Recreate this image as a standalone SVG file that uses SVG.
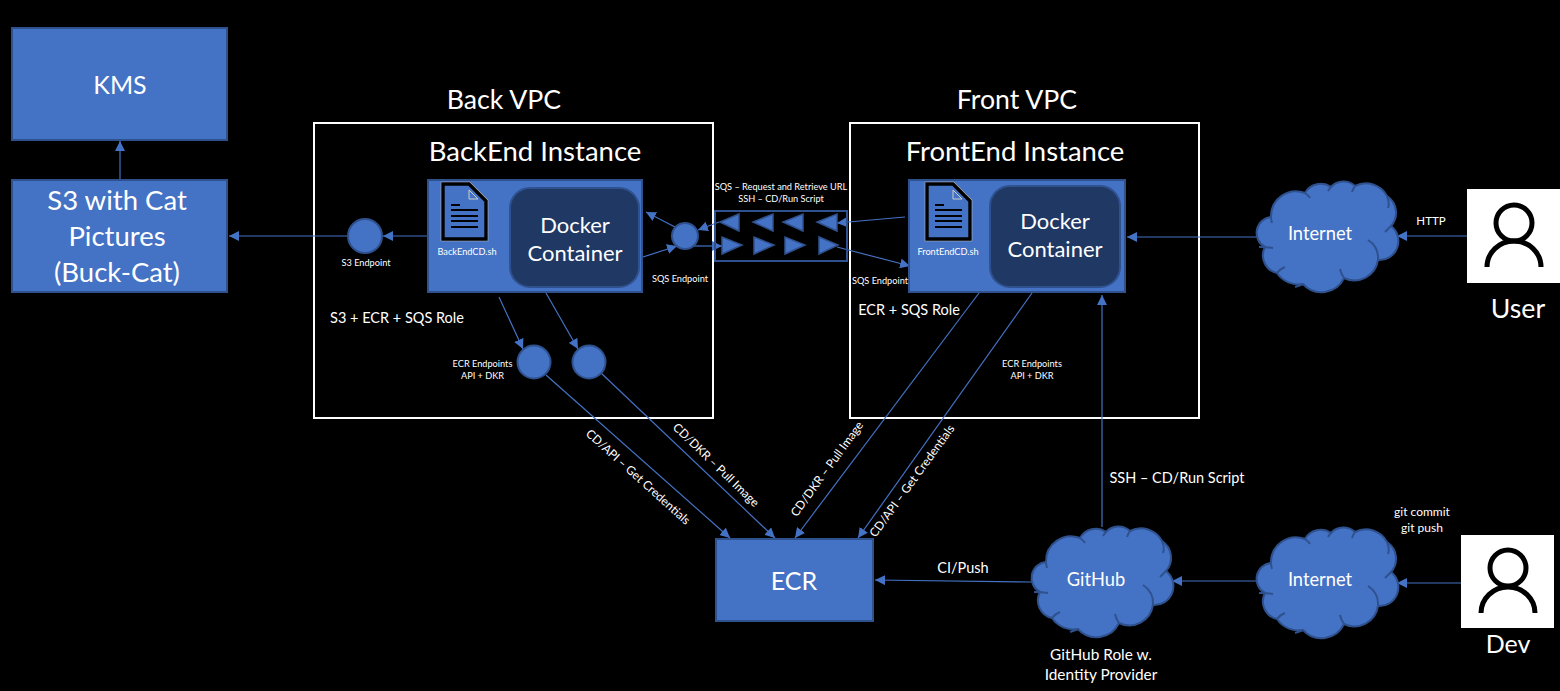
<svg xmlns="http://www.w3.org/2000/svg" width="1560" height="691" viewBox="0 0 1560 691">
<style>
text{font-family:"Lato","Open Sans","Liberation Sans",sans-serif;fill:#fff;text-anchor:middle}
.blue{fill:#4472C4;stroke:#2F528F;stroke-width:2}
.dark{fill:#203864;stroke:#2F528F;stroke-width:2}
.vpc{fill:none;stroke:#fff;stroke-width:2}
.tri{fill:#4472C4;stroke:#2F528F;stroke-width:1.5}
.c{fill:none;stroke:#4472C4;stroke-width:1.2;marker-end:url(#a)}
.t27{font-size:26.7px}.t25{font-size:25px}.t27i{font-size:27.5px}.t23{font-size:22px}.t18{font-size:18.3px}.t15{font-size:14.5px}.t155{font-size:15.4px}.t12{font-size:12px}.t10{font-size:9.2px}
.pi{fill:none;stroke:#000;stroke-width:5}
</style>
<defs>
<marker id="a" markerUnits="userSpaceOnUse" markerWidth="11" markerHeight="10" refX="10" refY="5" orient="auto"><path d="M0,0L10,5L0,10Z" fill="#4472C4"/></marker>
<g id="cloud">
<path class="blue" d="M7,68A16,16 0 0 1 13,38A25,25 0 0 1 47,14A18,18 0 0 1 73,8A17,17 0 0 1 97,7A24,24 0 0 1 129,17A20,20 0 0 1 133,47A19,19 0 0 1 120,81A24,24 0 0 1 86,99A25,25 0 0 1 45,105A26,26 0 0 1 19,94A18,18 0 0 1 7,68Z"/>
<path d="M1,68Q8,68 15,69M19,94Q22,90 27,88M37,108Q43,106 45,105M86,99Q83,95 82,90M120,81Q121,68 110,61M133,47Q130,50 127,53M129,17Q132,24 130,29M97,7Q95,10 94,13M73,8Q71,10 70,12M47,14Q50,16 52,19M13,38Q13,41 14,44" fill="none" stroke="#2F528F" stroke-width="2"/>
</g>
<g id="doc">
<path d="M0,0H26L43,17V55H0Z" fill="#4472C4" stroke="#bbb" stroke-width="4.6"/>
<path d="M0,0H26L43,17V55H0Z" fill="#4472C4" stroke="#000" stroke-width="3.4"/>
<path d="M26,6V15H35Z" fill="#4472C4" stroke="#ccc" stroke-width="1"/>
<path d="M8,21H17M8,26H35M8,32H35M8,37H35M8,43H35" stroke="#000" stroke-width="2"/>
</g>
</defs>
<rect width="1560" height="691" fill="#000"/>

<g id="back-vpc"><rect class="vpc" x="314" y="123" width="399" height="295"/><text class="t27" x="504" y="109">Back VPC</text></g>
<g id="front-vpc"><rect class="vpc" x="850" y="123" width="349" height="295"/><text class="t27" x="1017" y="109">Front VPC</text></g>

<g id="connectors">
<path class="c" d="M120,180V141"/>
<path class="c" d="M348,236H229"/>
<path class="c" d="M428,236H383"/>
<path class="c" d="M675,227L646,212"/>
<path class="c" d="M643,257L677,246"/>
<path class="c" d="M719,222L698,230"/>
<path class="c" d="M905,217L837,223"/>
<path class="c" d="M692,246H722"/>
<path class="c" d="M837,247L910,266"/>
<path class="c" d="M1256,237H1127"/>
<path class="c" d="M1467,236H1397"/>
<path class="c" d="M1461,583H1397"/>
<path class="c" d="M1256,581H1172"/>
<path class="c" d="M1032,582L875,580"/>
<path class="c" d="M1102,527V295"/>
<path class="c" d="M499,297L523,349"/>
<path class="c" d="M546,293L578,349"/>
<path class="c" d="M546,375L730,538"/>
<path class="c" d="M601,373L775,538"/>
<path class="c" d="M979,293L795,538"/>
<path class="c" d="M1032,293L858,538"/>
</g>

<g id="kms"><rect class="blue" x="12" y="28" width="215" height="112"/><text class="t25" x="120" y="94">KMS</text></g>
<g id="s3"><rect class="blue" x="12" y="180" width="215" height="112"/><text class="t27i" x="117" y="210">S3 with Cat</text><text class="t27i" x="117" y="246">Pictures</text><text class="t27i" x="117" y="282">(Buck-Cat)</text></g>
<g id="s3-endpoint"><circle class="blue" cx="365" cy="236" r="17"/><text class="t10" x="366" y="266">S3 Endpoint</text></g>

<g id="backend"><text class="t27i" x="535" y="161">BackEnd Instance</text>
<rect class="blue" x="428" y="180" width="214" height="112"/>
<use href="#doc" x="443" y="184"/><text class="t10" x="467" y="255">BackEndCD.sh</text>
<rect class="dark" x="510" y="188" width="129" height="99" rx="20"/><text class="t23" x="575" y="233">Docker</text><text class="t23" x="575" y="261">Container</text></g>
<g id="frontend"><text class="t27i" x="1015" y="161">FrontEnd Instance</text>
<rect class="blue" x="909" y="180" width="216" height="112"/>
<use href="#doc" x="927" y="184"/><text class="t10" x="948" y="255">FrontEndCD.sh</text>
<rect class="dark" x="990" y="186" width="130" height="101" rx="20"/><text class="t23" x="1055" y="229">Docker</text><text class="t23" x="1055" y="257">Container</text></g>

<g id="sqs-endpoint"><circle class="blue" cx="685" cy="236" r="13"/><text class="t10" x="680" y="282">SQS Endpoint</text></g>
<g id="sqs-queue"><rect x="715" y="211" width="132" height="50" fill="none" stroke="#2F528F" stroke-width="2"/>
<path class="tri" d="M739,214V231L720,222Z"/><path class="tri" d="M773,214V231L753,222Z"/><path class="tri" d="M803,214V231L783,222Z"/><path class="tri" d="M837,214V231L817,222Z"/>
<path class="tri" d="M722,237V254L742,245Z"/><path class="tri" d="M754,237V254L774,245Z"/><path class="tri" d="M785,237V254L805,245Z"/><path class="tri" d="M819,237V254L838,245Z"/>
<text class="t10" x="781" y="190">SQS – Request and Retrieve URL</text><text class="t10" x="781" y="202">SSH – CD/Run Script</text></g>
<text class="t10" x="880" y="284">SQS Endpoint</text>

<g id="ecr-endpoint-api"><circle class="blue" cx="534" cy="362" r="16.5"/><text class="t10" x="482.5" y="367">ECR Endpoints</text><text class="t10" x="482.5" y="379">API + DKR</text></g>
<g id="ecr-endpoint-dkr"><circle class="blue" cx="589" cy="362" r="16.5"/></g>
<text class="t15" x="397" y="323">S3 + ECR + SQS Role</text>
<text class="t15" x="909" y="315">ECR + SQS Role</text>
<text class="t10" x="1032" y="367">ECR Endpoints</text><text class="t10" x="1032" y="379">API + DKR</text>

<g id="ecr"><rect class="blue" x="716" y="539" width="157" height="82"/><text class="t25" x="794" y="590">ECR</text></g>

<g id="internet-user"><use href="#cloud" x="1258" y="179"/><text class="t18" x="1320" y="240">Internet</text></g>
<g id="internet-dev"><use href="#cloud" x="1258" y="525"/><text class="t18" x="1320" y="586">Internet</text></g>
<g id="github"><use href="#cloud" x="1033" y="524"/><text class="t18" x="1096" y="586">GitHub</text></g>

<g id="user"><rect x="1467" y="189" width="93" height="94" fill="#fff"/><circle class="pi" cx="1514" cy="223" r="18"/><path class="pi" d="M1487,267A27,26 0 0 1 1541,267"/><text class="t27" x="1518" y="318">User</text></g>
<g id="dev"><rect x="1461" y="535" width="93" height="93" fill="#fff"/><circle class="pi" cx="1508" cy="568" r="18"/><path class="pi" d="M1481,613A27,26 0 0 1 1535,613"/><text class="t25" x="1508" y="653">Dev</text></g>

<text class="t12" x="1431" y="225" style="font-size:11.5px">HTTP</text>
<text class="t12" x="1422" y="516">git commit</text><text class="t12" x="1422" y="532">git push</text>
<text class="t155" x="1101" y="660">GitHub Role w.</text><text class="t155" x="1101" y="680">Identity Provider</text>
<text class="t15" x="1177" y="483">SSH – CD/Run Script</text>
<text class="t15" x="963" y="573">CI/Push</text>
<g class="t12">
<text transform="translate(638 477) rotate(42)" y="4">CD/API – Get Credentials</text>
<text transform="translate(716 465) rotate(44)" y="4">CD/DKR – Pull Image</text>
<text transform="translate(827 469) rotate(-54)" y="4">CD/DKR – Pull Image</text>
<text transform="translate(912 481) rotate(-54)" y="4">CD/API – Get Credentials</text>
</g>
</svg>
